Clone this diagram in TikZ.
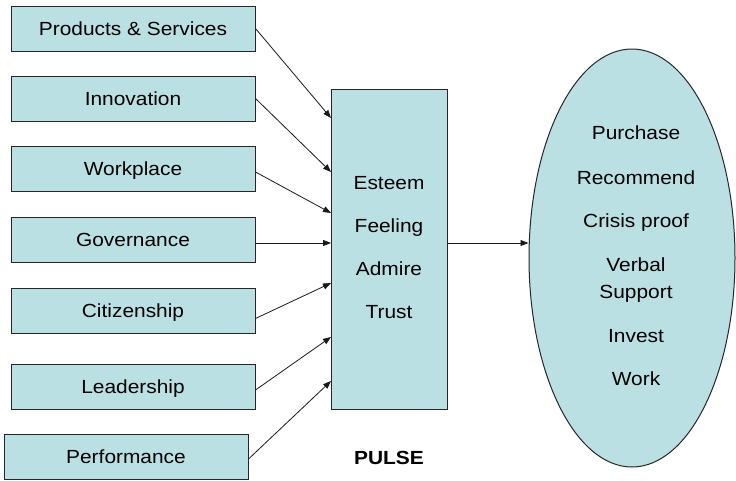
\documentclass[tikz,border=0pt]{standalone}
\usepackage{fontspec}
\setmainfont{Liberation Sans}
\usetikzlibrary{shapes.geometric,arrows.meta}
\definecolor{boxfill}{RGB}{186,224,227}
\newcommand\wtext[1]{\scalebox{1.1}[1]{#1}}
\begin{document}
\begin{tikzpicture}[x=1pt,y=-1pt,
  inbox/.style={draw=black!85,line width=1pt,fill=boxfill,minimum width=244pt,minimum height=45pt,inner sep=0pt,text height=13.6pt,text depth=0pt,font=\fontsize{19}{22}\selectfont},
  conn/.style={draw=black!90,line width=0.8pt,-{Triangle[length=8pt,width=6pt]}},
  lbl/.style={font=\fontsize{19}{22}\selectfont,inner sep=0pt,text height=13.6pt,text depth=0pt}]
\useasboundingbox (0,0) rectangle (736,480);
\node[inbox] (ps) at (133,28.5) {\wtext{Products \& Services}};
\node[inbox] (inn) at (133,98.5) {\wtext{Innovation}};
\node[inbox] (wp) at (133,169) {\wtext{Workplace}};
\node[inbox] (gov) at (133,239.5) {\wtext{Governance}};
\node[inbox] (cit) at (133,310.5) {\wtext{Citizenship}};
\node[inbox] (lead) at (133,387) {\wtext{Leadership}};
\node[inbox] (perf) at (126,457) {\wtext{Performance}};
\node[draw=black!85,line width=1pt,fill=boxfill,minimum width=116pt,minimum height=320pt,inner sep=0pt] (mid) at (389,249) {};
\node[lbl] (e1) at (389,183) {\wtext{Esteem}};
\node[lbl] (e2) at (389,226) {\wtext{Feeling}};
\node[lbl] (e3) at (389,269) {\wtext{Admire}};
\node[lbl] (e4) at (389,312) {\wtext{Trust}};
\node[lbl,font=\bfseries\fontsize{19}{22}\selectfont] (pulse) at (389,458) {\wtext{PULSE}};
\node[ellipse,draw=black!85,line width=1pt,fill=boxfill,minimum width=206pt,minimum height=418pt,inner sep=0pt] (ell) at (632,258) {};
\node[lbl] (o1) at (636,133) {\wtext{Purchase}};
\node[lbl] (o2) at (636,178) {\wtext{Recommend}};
\node[lbl] (o3) at (636,221) {\wtext{Crisis proof}};
\node[lbl] (o4) at (636,265) {\wtext{Verbal}};
\node[lbl] (o5) at (636,292) {\wtext{Support}};
\node[lbl] (o6) at (636,336) {\wtext{Invest}};
\node[lbl] (o7) at (636,379) {\wtext{Work}};
\coordinate (t1) at (331,118);
\coordinate (t2) at (331,172);
\coordinate (t3) at (331,213);
\coordinate (t4) at (331,243);
\coordinate (t5) at (331,283);
\coordinate (t6) at (331,337);
\coordinate (t7) at (331,381);
\draw[conn] (ps.east) -- (t1);
\draw[conn] (inn.east) -- (t2);
\draw[conn] ([yshift=-3pt]wp.east) -- (t3);
\draw[conn] (gov.east |- t4) -- (t4);
\draw[conn] ([yshift=-8pt]cit.east) -- (t5);
\draw[conn] ([yshift=-3pt]lead.east) -- (t6);
\draw[conn] ([yshift=-2pt]perf.east) -- (t7);
\draw[conn] (mid.east |- 0,243) -- (ell.west |- 0,243);
\end{tikzpicture}
\end{document}
